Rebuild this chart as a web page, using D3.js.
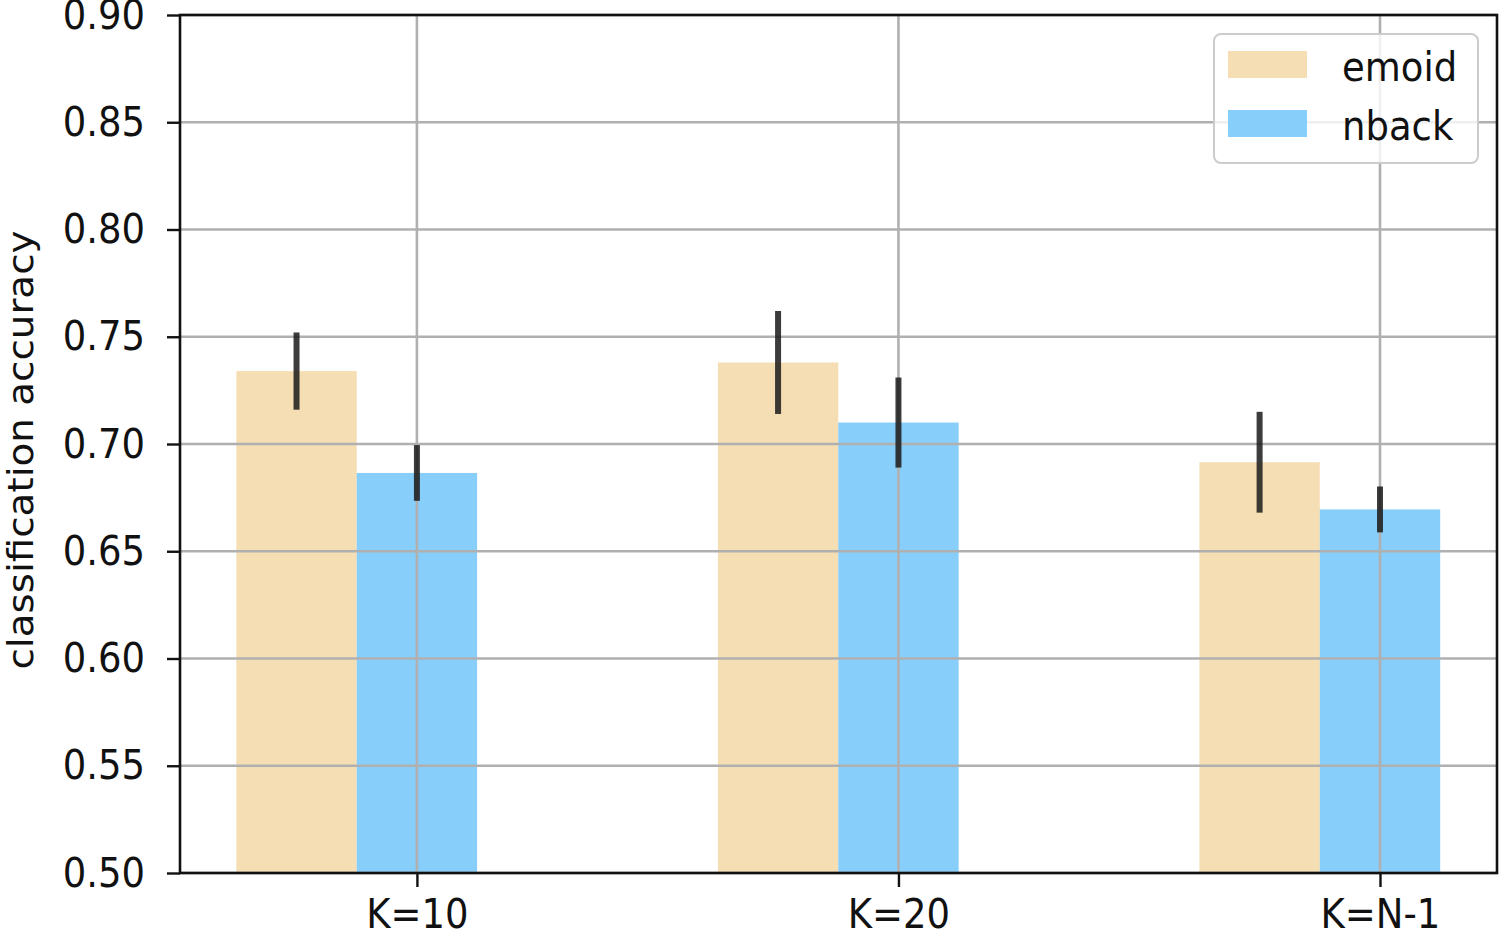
<!DOCTYPE html>
<html lang="en">
<head>
    <meta charset="UTF-8">
    <title>classification accuracy</title>
    <script src="https://d3js.org/d3.v7.min.js"></script>
    <style>
        body { margin: 0; background: #fff; }
        text { font-family: "DejaVu Sans", sans-serif; fill: #111; }
    </style>
</head>
<body>
    <div id="chart"></div>
    <script>
        var categories = ["K=10", "K=20", "K=N-1"];
        var emoidMean = [0.734, 0.738, 0.6915];
        var emoidErr = [0.018, 0.024, 0.0235];
        var nbackMean = [0.6865, 0.710, 0.6695];
        var nbackErr = [0.013, 0.021, 0.0107];
        var yTicks = [0.50, 0.55, 0.60, 0.65, 0.70, 0.75, 0.80, 0.85, 0.90];
        var seriesNames = ["emoid", "nback"];
        var seriesColors = ["#f5deb3", "#87cefa"];

        var W = 1500, H = 935;
        var pLeft = 180, pRight = 1497, pTop = 15, pBottom = 873;
        var barW = 0.25;

        var svg = d3.select("#chart")
            .append("svg")
            .attr("width", W)
            .attr("height", H);

        var x = d3.scaleLinear().domain([-0.492, 2.243]).range([pLeft, pRight]);
        var y = d3.scaleLinear().domain([0.5, 0.9]).range([pBottom, pTop]);

        // emoid sits one bar width left of the tick, nback centred on it
        var series = [
            { name: seriesNames[0], color: seriesColors[0], mean: emoidMean, err: emoidErr, offset: -barW },
            { name: seriesNames[1], color: seriesColors[1], mean: nbackMean, err: nbackErr, offset: 0 }
        ];

        var rows = [];
        series.forEach(function (s) {
            categories.forEach(function (c, i) {
                rows.push({ i: i, color: s.color, mean: s.mean[i], err: s.err[i], pos: i + s.offset });
            });
        });

        svg.selectAll("rect.bar")
            .data(rows)
            .enter()
            .append("rect")
            .attr("class", "bar")
            .attr("x", function (d) { return x(d.pos - barW / 2); })
            .attr("width", function (d) { return x(d.pos + barW / 2) - x(d.pos - barW / 2); })
            .attr("y", function (d) { return y(d.mean); })
            .attr("height", function (d) { return pBottom - y(d.mean); })
            .attr("fill", function (d) { return d.color; });

        // grid (above the bars, like matplotlib)
        var grid = svg.append("g");
        grid.selectAll("line.h")
            .data(yTicks)
            .enter()
            .append("line")
            .attr("x1", pLeft).attr("x2", pRight)
            .attr("y1", function (d) { return y(d); })
            .attr("y2", function (d) { return y(d); })
            .attr("stroke", "#b0b0b0")
            .attr("stroke-width", 2.6);
        grid.selectAll("line.v")
            .data(categories)
            .enter()
            .append("line")
            .attr("x1", function (d, i) { return x(i); })
            .attr("x2", function (d, i) { return x(i); })
            .attr("y1", pTop).attr("y2", pBottom)
            .attr("stroke", "#b0b0b0")
            .attr("stroke-width", 2.6);

        // error bars
        svg.selectAll("line.err")
            .data(rows)
            .enter()
            .append("line")
            .attr("x1", function (d) { return x(d.pos); })
            .attr("x2", function (d) { return x(d.pos); })
            .attr("y1", function (d) { return y(d.mean + d.err); })
            .attr("y2", function (d) { return y(d.mean - d.err); })
            .attr("stroke", "#1a1a1a")
            .attr("stroke-opacity", 0.85)
            .attr("stroke-width", 6);

        // axes
        var yAxis = svg.append("g")
            .attr("transform", "translate(" + pLeft + ",0)")
            .call(d3.axisLeft(y).tickValues(yTicks).tickFormat(d3.format(".2f")).tickSize(13).tickPadding(22).tickSizeOuter(0));
        var xAxis = svg.append("g")
            .attr("transform", "translate(0," + pBottom + ")")
            .call(d3.axisBottom(x).tickValues([0, 1, 2]).tickFormat(function (d) { return categories[d]; }).tickSize(14).tickPadding(10).tickSizeOuter(0));

        [yAxis, xAxis].forEach(function (a) {
            a.select(".domain").remove();
            a.selectAll(".tick line").attr("stroke", "#111").attr("stroke-width", 2.4);
            a.selectAll(".tick text")
                .attr("font-size", "37px")
                .attr("font-family", "DejaVu Sans")
                .attr("fill", "#111")
                .attr("transform", "scale(1,1.1)");
        });

        svg.append("rect")
            .attr("x", pLeft).attr("y", pTop)
            .attr("width", pRight - pLeft).attr("height", pBottom - pTop)
            .attr("fill", "none")
            .attr("stroke", "#111")
            .attr("stroke-width", 2.6);

        svg.append("text")
            .attr("transform", "translate(33,450) scale(1,1.08) rotate(-90)")
            .attr("text-anchor", "middle")
            .attr("font-size", "36px")
            .text("classification accuracy");

        // legend
        var lg = svg.append("g");
        lg.append("rect")
            .attr("x", 1214).attr("y", 34)
            .attr("width", 264).attr("height", 129)
            .attr("rx", 7)
            .attr("fill", "#fff").attr("fill-opacity", 0.8)
            .attr("stroke", "#cccccc").attr("stroke-width", 2);
        series.forEach(function (s, i) {
            lg.append("rect")
                .attr("x", 1228).attr("y", 51 + i * 59)
                .attr("width", 79).attr("height", 27)
                .attr("fill", s.color);
            lg.append("text")
                .attr("transform", "translate(1342," + (81 + i * 59) + ") scale(1,1.1)")
                .attr("font-size", "37px")
                .text(s.name);
        });
    </script>
</body>
</html>
